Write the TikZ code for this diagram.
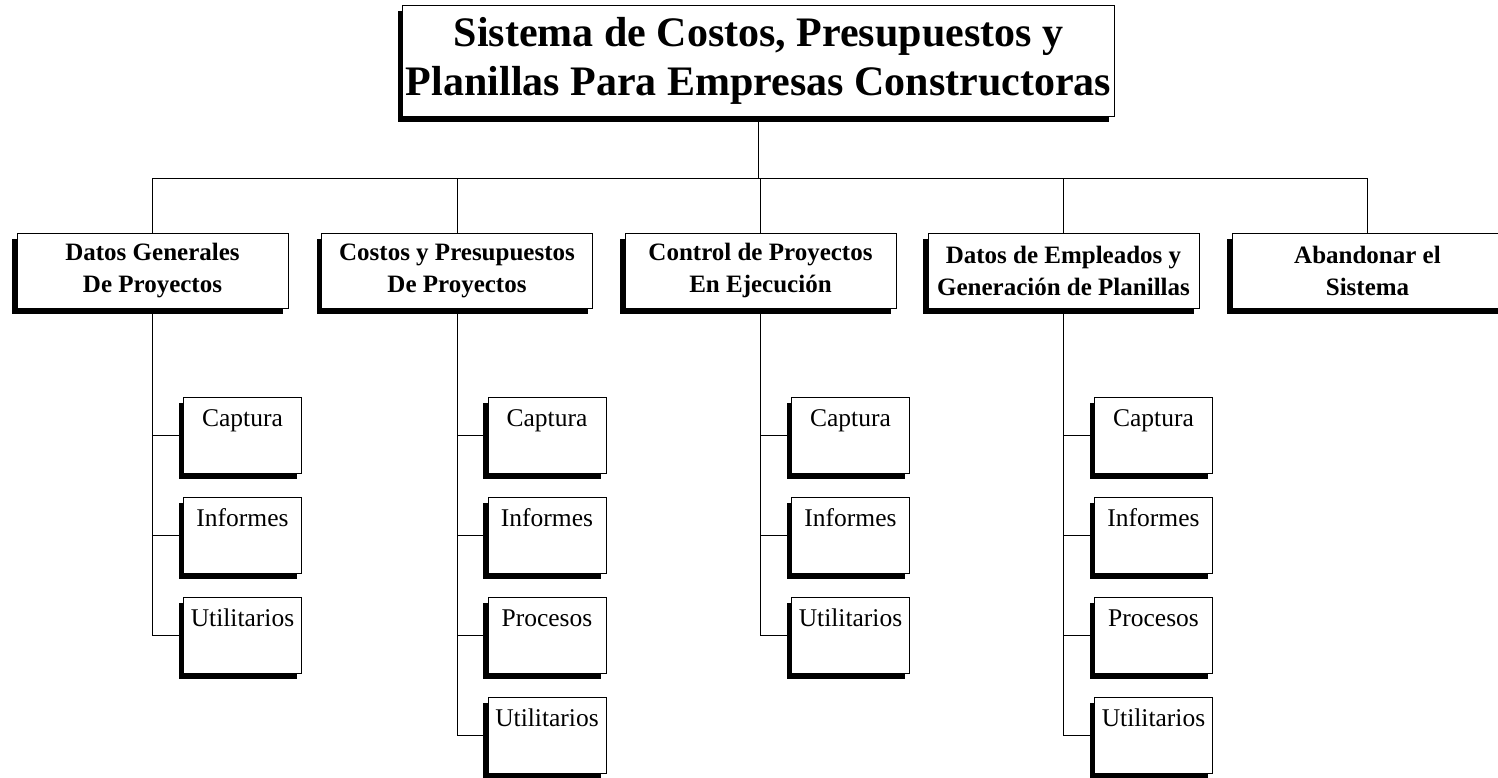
\documentclass[tikz,border=0pt]{standalone}
\usepackage{fontspec}
\setmainfont{Liberation Serif}
\usetikzlibrary{shadows}

\begin{document}
\begin{tikzpicture}[x=1pt,y=-1pt,line width=1pt]
\tikzstyle{every node}=[font=\fontsize{25}{31}\selectfont]
\tikzstyle{sombra}=[drop shadow={shadow xshift=-5pt,shadow yshift=-6pt,fill=black,opacity=1}]
\tikzstyle{titulo}=[draw,fill=white,sombra,minimum width=705pt,minimum height=111pt,align=center,font=\fontsize{42}{49}\selectfont\bfseries]
\tikzstyle{modulo}=[draw,fill=white,sombra,minimum width=271pt,minimum height=75pt,align=center,font=\fontsize{25}{32}\selectfont\bfseries]
\tikzstyle{opcion}=[draw,fill=white,sombra,minimum width=118pt,inner ysep=0pt,text height=29pt,text depth=47pt,font=\fontsize{25.5}{30}\selectfont]
\useasboundingbox[fill=white] (0,0) rectangle (1498,777);

% sistema
    \node[titulo] (sistema) at (758.5,60.5) {Sistema de Costos, Presupuestos y\\Planillas Para Empresas Constructoras};

% modulos
    \node[modulo] (datos) at (152.5,270.5) {Datos Generales\\De Proyectos};
    \node[modulo] (costos) at (457,270.5) {Costos y Presupuestos\\De Proyectos};
    \node[modulo] (control) at (760.5,270.5) {Control de Proyectos\\En Ejecución};
    \node[modulo] (planillas) at (1063.5,270.5) {Datos de Empleados y\\Generación de Planillas};
    \node[modulo] (abandonar) at (1367.5,270.5) {Abandonar el\\Sistema};

    \coordinate (bus) at (0,178);
    \draw (sistema.south) -- (sistema.south |- bus);
    \draw (datos.north) |- (bus -| abandonar.north) -- (abandonar.north);
    \draw (costos.north) -- (costos.north |- bus);
    \draw (control.north) -- (control.north |- bus);
    \draw (planillas.north) -- (planillas.north |- bus);

% opciones
    \node[opcion] (datos1) at (242.5,435) {Captura};
    \node[opcion] (datos2) at (242.5,535) {Informes};
    \node[opcion] (datos3) at (242.5,635) {Utilitarios};
    \draw (datos.south) |- (datos1.west);
    \draw (datos.south) |- (datos2.west);
    \draw (datos.south) |- (datos3.west);

    \node[opcion] (costos1) at (547,435) {Captura};
    \node[opcion] (costos2) at (547,535) {Informes};
    \node[opcion] (costos3) at (547,635) {Procesos};
    \node[opcion] (costos4) at (547,735) {Utilitarios};
    \draw (costos.south) |- (costos1.west);
    \draw (costos.south) |- (costos2.west);
    \draw (costos.south) |- (costos3.west);
    \draw (costos.south) |- (costos4.west);

    \node[opcion] (control1) at (850.5,435) {Captura};
    \node[opcion] (control2) at (850.5,535) {Informes};
    \node[opcion] (control3) at (850.5,635) {Utilitarios};
    \draw (control.south) |- (control1.west);
    \draw (control.south) |- (control2.west);
    \draw (control.south) |- (control3.west);

    \node[opcion] (planillas1) at (1153.5,435) {Captura};
    \node[opcion] (planillas2) at (1153.5,535) {Informes};
    \node[opcion] (planillas3) at (1153.5,635) {Procesos};
    \node[opcion] (planillas4) at (1153.5,735) {Utilitarios};
    \draw (planillas.south) |- (planillas1.west);
    \draw (planillas.south) |- (planillas2.west);
    \draw (planillas.south) |- (planillas3.west);
    \draw (planillas.south) |- (planillas4.west);
\end{tikzpicture}
\end{document}
